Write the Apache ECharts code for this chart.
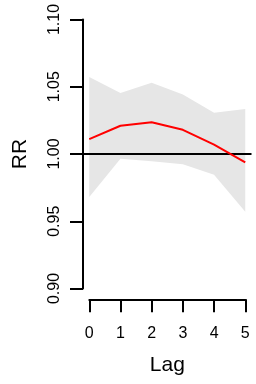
<!DOCTYPE html>
<html>
<head>
<meta charset="utf-8">
<script src="https://cdn.jsdelivr.net/npm/echarts@6/dist/echarts.min.js"></script>
<style>html,body{margin:0;padding:0;background:#fff}#c{width:256px;height:384px}</style>
</head>
<body>
<div id="c"></div>
<script>
const lags = [0, 1, 2, 3, 4, 5];
const rr = [1.011, 1.021, 1.0236, 1.018, 1.007, 0.9937];
const rrLow = [0.968, 0.9964, 0.9946, 0.9924, 0.9845, 0.957];
const rrHigh = [1.0573, 1.0454, 1.0529, 1.0442, 1.0306, 1.0335];
const yTicks = [0.90, 0.95, 1.00, 1.05, 1.10];
const xTicks = [0, 1, 2, 3, 4, 5];

const FONT = 'Liberation Sans';
const chart = echarts.init(document.getElementById('c'), null, {renderer: 'canvas'});
const bandData = lags.map((l, i) => [l, rrLow[i], rrHigh[i]]);
const rrPts = lags.map((l, i) => [l, rr[i]]);

chart.setOption({
  animation: false,
  backgroundColor: '#ffffff',
  grid: [
    {left: 83, right: 4.5, top: 19.5, bottom: 95.5},
    {left: 89.3, right: 10.7, top: 19.5, bottom: 84.7}
  ],
  xAxis: [
    {gridIndex: 0, type: 'value', min: -0.2, max: 5.2, show: false},
    {gridIndex: 1, type: 'value', min: 0, max: 5, interval: 1,
      name: 'Lag', nameLocation: 'middle', nameGap: 55,
      nameTextStyle: {fontFamily: FONT, fontSize: 21, color: '#000'},
      axisLine: {show: true, onZero: false, lineStyle: {color: '#000', width: 2}},
      axisTick: {show: true, inside: false, length: 13, lineStyle: {color: '#000', width: 2}},
      axisLabel: {fontFamily: FONT, fontSize: 16, color: '#000', margin: 26,
        formatter: v => xTicks.includes(v) ? String(v) : ''},
      splitLine: {show: false}}
  ],
  yAxis: [
    {gridIndex: 0, type: 'value', min: 0.9, max: 1.1, interval: 0.05,
      name: 'RR', nameLocation: 'middle', nameGap: 52, nameRotate: 90,
      nameTextStyle: {fontFamily: FONT, fontSize: 21, color: '#000'},
      axisLine: {show: true, onZero: false, lineStyle: {color: '#000', width: 2}},
      axisTick: {show: true, inside: false, length: 13, lineStyle: {color: '#000', width: 2}},
      axisLabel: {fontFamily: FONT, fontSize: 16, color: '#000', rotate: 90, margin: 20,
        formatter: v => {const t = yTicks.find(y => Math.abs(y - v) < 1e-9); return t === undefined ? '' : t.toFixed(2);}},
      splitLine: {show: false}},
    {gridIndex: 1, type: 'value', min: 0.9, max: 1.1, show: false}
  ],
  series: [
    {type: 'custom', xAxisIndex: 0, yAxisIndex: 0, data: bandData,
      encode: {x: 0, y: [1, 2]}, silent: true, z: 1,
      renderItem: (params, api) => {
        if (params.dataIndex !== 0) return null;
        const pts = [];
        for (let i = 0; i < bandData.length; i++) pts.push(api.coord([bandData[i][0], bandData[i][2]]));
        for (let i = bandData.length - 1; i >= 0; i--) pts.push(api.coord([bandData[i][0], bandData[i][1]]));
        return {type: 'polygon', shape: {points: pts}, style: {fill: '#e6e6e6'}};
      },
      markLine: {silent: true, symbol: 'none', label: {show: false},
        lineStyle: {color: '#000', width: 2, type: 'solid'},
        data: [{yAxis: 1}]}},
    {type: 'line', xAxisIndex: 0, yAxisIndex: 0, data: rrPts,
      symbol: 'none', lineStyle: {color: '#ff0000', width: 2}, z: 5}
  ]
});
</script>
</body>
</html>
